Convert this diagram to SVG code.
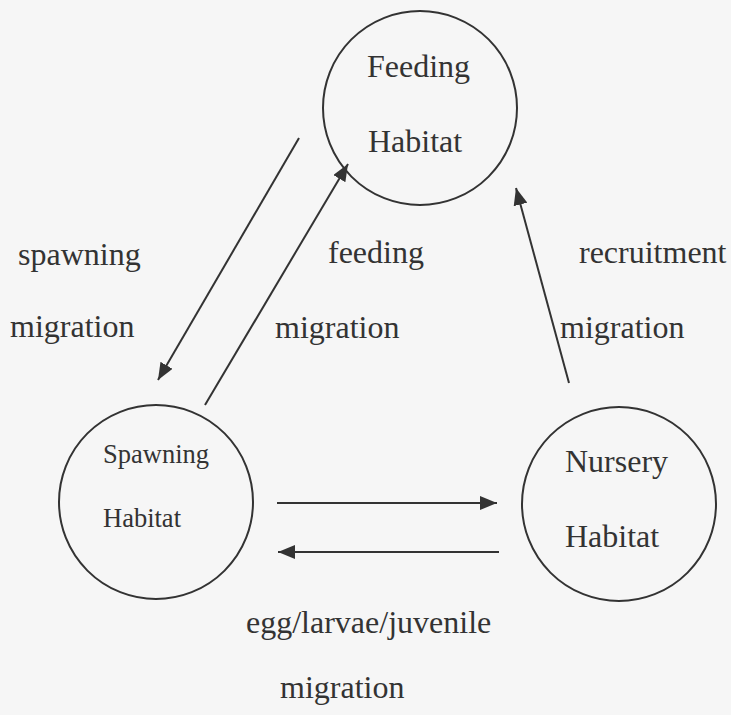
<svg xmlns="http://www.w3.org/2000/svg" width="731" height="715" viewBox="0 0 731 715">
<style>
.node{fill:none;stroke:#333;stroke-width:2}
.lbl{font-family:"Liberation Serif","Times New Roman",serif;font-size:32px;fill:#333}
.small{font-size:26.5px}
.conn{stroke:#333;stroke-width:2;fill:none}
</style>
<defs>
<marker id="ah" viewBox="0 0 17 14" refX="17" refY="7" markerWidth="17" markerHeight="14" markerUnits="userSpaceOnUse" orient="auto">
<path d="M0,0 L17,7 L0,14 z" fill="#333"/>
</marker>
</defs>
<rect width="731" height="715" fill="#f6f6f6"/>
<g id="feeding">
<circle class="node" cx="420" cy="108" r="97"/>
<text class="lbl" x="367" y="77">Feeding</text>
<text class="lbl" x="368" y="152">Habitat</text>
</g>
<g id="spawning">
<circle class="node" cx="156" cy="502" r="97"/>
<text class="lbl small" x="103" y="463">Spawning</text>
<text class="lbl small" x="103" y="527">Habitat</text>
</g>
<g id="nursery">
<circle class="node" cx="619" cy="504" r="97"/>
<text class="lbl" x="565" y="472">Nursery</text>
<text class="lbl" x="565" y="547">Habitat</text>
</g>
<g id="connectors">
<line class="conn" x1="299" y1="138" x2="158" y2="380" marker-end="url(#ah)"/>
<line class="conn" x1="205" y1="405" x2="348" y2="164" marker-end="url(#ah)"/>
<line class="conn" x1="569" y1="383" x2="516" y2="188" marker-end="url(#ah)"/>
<line class="conn" x1="277" y1="503" x2="497" y2="503" marker-end="url(#ah)"/>
<line class="conn" x1="499" y1="552" x2="278" y2="552" marker-end="url(#ah)"/>
</g>
<g id="labels">
<text class="lbl" x="18" y="265">spawning</text>
<text class="lbl" x="10" y="337">migration</text>
<text class="lbl" x="328" y="263">feeding</text>
<text class="lbl" x="275" y="338">migration</text>
<text class="lbl" x="579" y="263">recruitment</text>
<text class="lbl" x="560" y="338">migration</text>
<text class="lbl" x="246" y="633">egg/larvae/juvenile</text>
<text class="lbl" x="280" y="698">migration</text>
</g>
</svg>
